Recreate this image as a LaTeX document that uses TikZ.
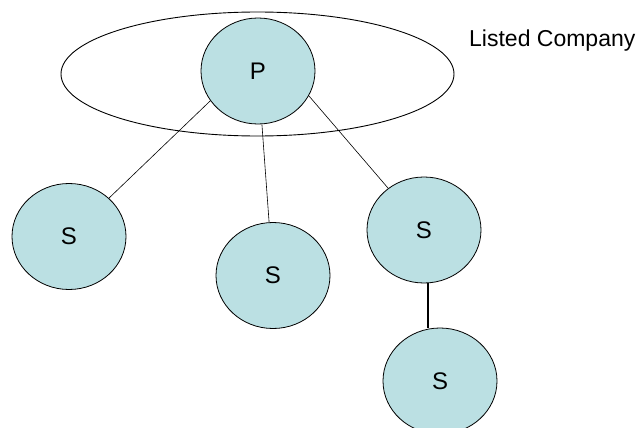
\documentclass[tikz,border=0pt]{standalone}
\usepackage{fontspec}
\setmainfont{Liberation Sans}
\usepackage{tikz}
\usetikzlibrary{shapes.geometric}
\definecolor{firmfill}{RGB}{187,224,227}

\begin{document}
\begin{tikzpicture}[x=1pt, y=-1pt,
  firm/.style={ellipse, draw, fill=firmfill, line width=0.8pt,
    minimum width=114pt, minimum height=106pt, inner sep=0pt,
    font=\fontsize{24}{28}\selectfont},
  link/.style={line width=0.6pt}]
\useasboundingbox (0,0) rectangle (643,428);
\clip (0,0) rectangle (643,428);
% the listed group
\node[ellipse, draw, line width=0.9pt, minimum width=393pt, minimum height=124pt] (group) at (257.5,74) {};
\node[anchor=base west, inner sep=0pt, font=\fontsize{23}{27}\selectfont] (listed) at (469,47) {Listed Company};
% parent and subsidiaries
\node[firm] (p) at (258,71) {P};
\node[firm] (s1) at (69,236.5) {S};
\node[firm] (s2) at (273,275.5) {S};
\node[firm] (s3) at (424,230) {S};
\node[firm] (s4) at (440,381) {S};
\draw[link] (p.212) -- (s1);
\draw[link] (p) -- (s2);
\draw[link] (p.334) -- (s3);
\draw[line width=1.8pt] (s3.274) -- (s3.274 |- s4.north);
\end{tikzpicture}
\end{document}
